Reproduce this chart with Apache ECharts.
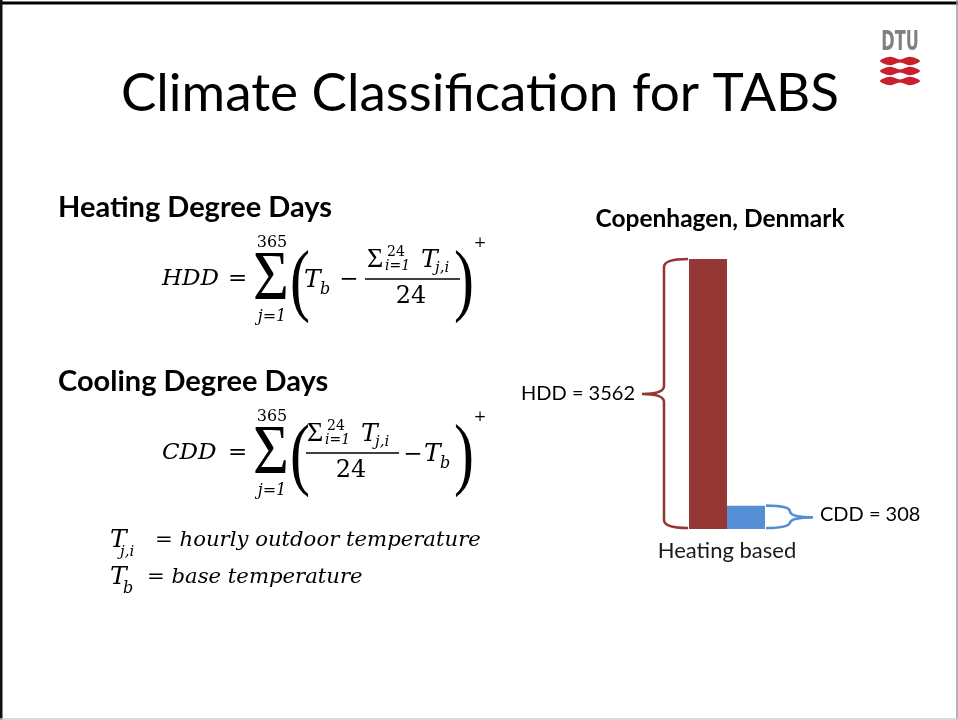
<!DOCTYPE html>
<html>
<head>
<meta charset="utf-8">
<script src="https://cdn.jsdelivr.net/npm/echarts@6/dist/echarts.min.js"></script>
<style>html,body{margin:0;padding:0;background:#fff;}#c{width:958px;height:720px;}</style>
</head>
<body>
<div id="c"></div>
<script>
// ---- data ----
const categories = ['Heating based'];
const hddValues = [3562];
const cddValues = [308];
const seriesNames = ['HDD', 'CDD'];
const chartTitle = 'Copenhagen, Denmark';
const slideTitle = 'Climate Classification for TABS';

const chart = echarts.init(document.getElementById('c'), null, {renderer: 'canvas'});

const SANS = 'Lato, "Open Sans", sans-serif';
const MATH = '"DejaVu Serif", serif';
const LSER = '"Liberation Serif", serif';

function T(text, x, y, o) {
  o = o || {};
  return {
    type: 'text', x: x, y: y,
    scaleX: o.sx || 1,
    style: {
      text: text,
      fontSize: o.size || 22,
      fontFamily: o.family || MATH,
      fontStyle: o.italic ? 'italic' : 'normal',
      fontWeight: o.bold ? 'bold' : 'normal',
      fill: o.color || '#000',
      align: o.align || 'left', textAlign: o.align || 'left',
      verticalAlign: 'middle', textVerticalAlign: 'middle'
    },
    silent: true
  };
}
function L(x1, y1, x2, y2, w, c) {
  return {type: 'line', shape: {x1: x1, y1: y1, x2: x2, y2: y2},
    style: {stroke: c || '#000', lineWidth: w || 1.5}, silent: true};
}
function wave(cx, cy, col) {
  return {type: 'polygon', shape: {smooth: 0.35, points: [
    [cx - 20, cy], [cx - 10, cy - 4.2], [cx, cy - 1.6], [cx + 10, cy - 4.2], [cx + 20, cy],
    [cx + 10, cy + 4.2], [cx, cy + 1.6], [cx - 10, cy + 4.2]
  ]}, style: {fill: col}, silent: true};
}

function numerator(x, m) {
  return [
    T('\u03A3', x, m - 19, {family: LSER, size: 28}),
    T('24', x + 20, m - 27, {size: 14}),
    T('i=1', x + 18, m - 13, {size: 14, italic: true}),
    T('T', x + 54, m - 19, {italic: true, size: 25}),
    T('j,i', x + 68, m - 11, {italic: true, size: 15})
  ];
}

function formula(m, isHDD) {
  let els = [];
  els.push(T(isHDD ? 'HDD' : 'CDD', 162, m, {italic: true, size: 23}));
  els.push(T('=', 228, m, {size: 23}));
  els.push(T('\u03A3', 271, m + 2, {family: LSER, size: 70, align: 'center', sx: 0.88}));
  els.push(T('365', 272, m - 36, {size: 16, align: 'center'}));
  els.push(T('j=1', 272, m + 38, {size: 16, align: 'center', italic: true}));
  els.push(T('(', 300, m + 6, {family: LSER, size: 80, align: 'center', sx: 0.75}));
  els.push(T(')', 464, m + 6, {family: LSER, size: 80, align: 'center', sx: 0.75}));
  els.push(T('+', 480, m - 36, {size: 15, align: 'center'}));
  if (isHDD) {
    els.push(T('T', 304, m + 1, {italic: true, size: 25}));
    els.push(T('b', 320, m + 11, {italic: true, size: 16}));
    els.push(T('\u2212', 349, m + 1, {size: 23, align: 'center'}));
    els = els.concat(numerator(367, m));
    els.push(L(365, m, 460, m, 1.4));
    els.push(T('24', 411, m + 18, {size: 24, align: 'center'}));
  } else {
    els = els.concat(numerator(307, m));
    els.push(L(306, m, 399, m, 1.4));
    els.push(T('24', 351, m + 18, {size: 24, align: 'center'}));
    els.push(T('\u2212', 413, m + 2, {size: 23, align: 'center'}));
    els.push(T('T', 424, m + 1, {italic: true, size: 25}));
    els.push(T('b', 440, m + 11, {italic: true, size: 16}));
  }
  return els;
}

const graphics = [
  // slide frame
  L(0, 3, 958, 3, 3, '#000'),
  L(1, 0, 1, 720, 3, '#111'),
  L(957, 0, 957, 720, 1.5, '#999'),
  L(0, 719, 958, 719, 1.5, '#ccc'),
  // title
  T(slideTitle, 480, 94, {family: SANS, size: 53, align: 'center', color: '#000'}),
  // DTU logo
  {type: 'text', x: 900, y: 43, scaleX: 0.62,
   style: {text: 'DTU', fontSize: 26, fontWeight: 'bold', fontFamily: '"DejaVu Sans", sans-serif',
     fill: '#808080', align: 'center', textAlign: 'center', verticalAlign: 'middle', textVerticalAlign: 'middle'}},
  wave(900, 61, '#c8202c'), wave(900, 71, '#c8202c'), wave(900, 81, '#c8202c'),
  // headings
  T('Heating Degree Days', 58, 208, {family: SANS, size: 29, bold: true}),
  T('Cooling Degree Days', 58, 382, {family: SANS, size: 29, bold: true}),
  // definitions
  T('T', 110, 540, {italic: true, size: 25}),
  T('j,i', 120, 552, {italic: true, size: 15}),
  T('= hourly outdoor temperature', 155, 540, {italic: true, size: 21.2}),
  T('T', 110, 577, {italic: true, size: 25}),
  T('b', 123, 589, {italic: true, size: 16}),
  T('= base temperature', 147, 577, {italic: true, size: 21.2})
].concat(formula(279, true), formula(453, false));

function brace(xt, xs, xc, y0, y1, ym, r, color) {
  const d = [
    'M', xt, y0,
    'Q', xs, y0, xs, y0 + r,
    'L', xs, ym - r,
    'Q', xs, ym, xc, ym,
    'Q', xs, ym, xs, ym + r,
    'L', xs, y1 - r,
    'Q', xs, y1, xt, y1
  ].join(' ');
  return {type: 'path', shape: {pathData: d},
    style: {stroke: color, lineWidth: 2.6, fill: null}};
}

const option = {
  animation: false,
  backgroundColor: '#fff',
  title: {text: chartTitle, left: 715, top: 202, textAlign: 'center',
    textStyle: {fontFamily: SANS, fontSize: 24.5, fontWeight: 'bold', color: '#000'}},
  grid: {left: 627, width: 200, top: 259, height: 270},
  xAxis: {type: 'category', data: categories,
    axisLine: {show: false}, axisTick: {show: false}, splitLine: {show: false},
    axisLabel: {fontFamily: SANS, fontSize: 22, color: '#1a1a1a', margin: 11}},
  yAxis: {type: 'value', min: 0, max: 'dataMax', show: false, splitLine: {show: false}},
  series: [
    {name: seriesNames[0], type: 'bar', data: hddValues, barWidth: 38, barGap: '0%',
     itemStyle: {color: '#953735'}},
    {name: seriesNames[1], type: 'bar', data: cddValues, barWidth: 38, barGap: '0%',
     itemStyle: {color: '#558ed5'}},
    {type: 'custom', silent: true, z: 5,
     data: categories.map((c, i) => [i, hddValues[i], cddValues[i]]),
     encode: {x: 0, y: 1},
     renderItem: function (params, api) {
       const i = api.value(0), h = api.value(1), c = api.value(2);
       const base = api.coord([i, 0]);
       const th = api.coord([i, h]);
       const tc = api.coord([i, c]);
       const cx = base[0];
       const hLeft = cx - 38, cRight = cx + 38;
       const hm = (th[1] + base[1]) / 2;
       const cm = (tc[1] + base[1]) / 2;
       return {type: 'group', children: [
         brace(hLeft - 1, hLeft - 25, hLeft - 47, th[1], base[1] - 1, hm, 8, '#953735'),
         {type: 'text', style: {text: seriesNames[0] + ' = ' + h, x: hLeft - 54, y: hm,
           fontFamily: SANS, fontSize: 20, fill: '#000', align: 'right', verticalAlign: 'middle'}},
         brace(cRight + 1, cRight + 25, cRight + 48, tc[1], base[1] - 1, cm, 6, '#558ed5'),
         {type: 'text', style: {text: seriesNames[1] + ' = ' + c, x: cRight + 55, y: cm - 3,
           fontFamily: SANS, fontSize: 20, fill: '#000', align: 'left', verticalAlign: 'middle'}}
       ]};
     }}
  ],
  graphic: graphics
};
chart.setOption(option);
</script>
</body>
</html>
